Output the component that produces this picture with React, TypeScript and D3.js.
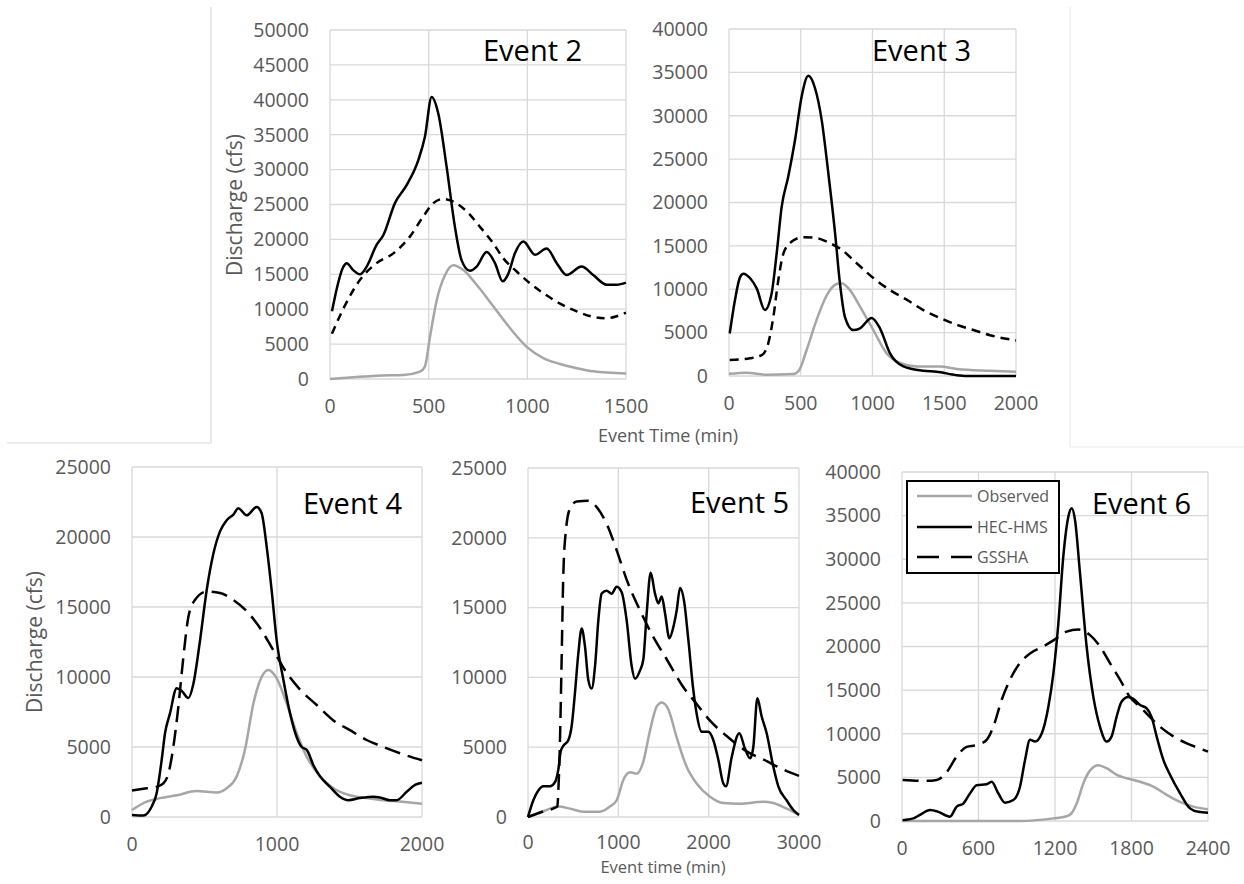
import React from "react";
import * as d3 from "d3";

type Pt = [number, number];

// ---------- DATA (time in min, discharge in cfs) ----------
const seriesNames = ["Observed", "HEC-HMS", "GSSHA"];

const e2XTicks = [0, 500, 1000, 1500];
const e2YMax = 50000;
const e2Observed: Pt[] = [[0,0],[101,200],[236,480],[372,570],[456,1050],[481,1800],[507,6100],[541,11300],[583,14900],[625,16300],[676,15600],[743,13500],[828,10400],[912,7300],[997,4600],[1081,3000],[1166,2150],[1250,1550],[1334,1100],[1500,800]];
const e2Hms: Pt[] = [[10,9700],[68,16100],[84,16600],[118,15600],[152,15000],[186,16100],[236,19200],[270,20600],[329,25200],[389,27800],[448,31400],[481,34700],[515,40400],[549,38000],[591,30400],[633,21800],[667,17000],[709,15500],[743,16100],[794,18200],[836,16600],[875,14000],[904,15100],[937,18000],[980,19700],[1039,17800],[1098,18700],[1149,16600],[1199,14900],[1275,16100],[1334,14900],[1402,13500],[1453,13500],[1500,13800]];
const e2Gssha: Pt[] = [[10,6500],[68,10100],[152,14200],[236,16600],[321,18000],[405,20400],[473,23300],[524,25200],[574,25800],[625,25400],[693,24000],[760,21800],[828,19400],[878,17300],[946,15400],[1014,13700],[1081,12300],[1166,10800],[1250,9700],[1334,8900],[1402,8700],[1453,9000],[1500,9500]];

const e3XTicks = [0, 500, 1000, 1500, 2000];
const e3YMax = 40000;
const e3Observed: Pt[] = [[0,250],[123,380],[262,150],[448,230],[490,700],[541,3000],[611,6500],[681,9300],[750,10600],[785,10700],[843,9900],[913,8000],[1006,5300],[1099,2600],[1192,1500],[1308,1100],[1470,1100],[1587,800],[1819,600],[2000,500]];
const e3Hms: Pt[] = [[5,4900],[42,8800],[77,11400],[100,11800],[146,11300],[193,10100],[250,7600],[297,9500],[332,14100],[367,19500],[413,23000],[460,27200],[506,32200],[553,34600],[599,33200],[646,29500],[692,23400],[739,16500],[773,10700],[808,6800],[866,5300],[913,5500],[994,6700],[1052,5500],[1122,2600],[1215,1100],[1354,600],[1447,500],[1587,100],[1703,0],[2000,0]];
const e3Gssha: Pt[] = [[5,1850],[146,2050],[228,2400],[274,3800],[309,6800],[344,11100],[379,14100],[437,15500],[518,16000],[611,15900],[704,15300],[773,14700],[890,13000],[1006,11300],[1122,9900],[1238,8800],[1354,7600],[1470,6700],[1587,5900],[1703,5300],[1819,4700],[2000,4100]];

const e4XTicks = [0, 1000, 2000];
const e4YMax = 25000;
const e4Observed: Pt[] = [[0,500],[101,1100],[193,1350],[308,1550],[446,1850],[584,1750],[653,2050],[722,2900],[779,4800],[837,8100],[894,10000],[940,10500],[998,9900],[1067,8100],[1136,6000],[1205,4300],[1297,2900],[1389,2050],[1503,1550],[1618,1350],[1733,1200],[1848,1100],[2000,950]];
const e4Hms: Pt[] = [[0,150],[78,100],[136,750],[170,1700],[205,4100],[228,6000],[262,7400],[308,9200],[343,9000],[389,8500],[423,9500],[469,12600],[515,16200],[561,18800],[607,20400],[653,21200],[699,21600],[733,22050],[791,21550],[860,22150],[894,21700],[929,19300],[963,16200],[998,12600],[1044,9800],[1090,7400],[1136,5700],[1170,5000],[1205,4800],[1251,3700],[1297,2900],[1366,2150],[1434,1450],[1492,1200],[1572,1350],[1664,1450],[1710,1400],[1779,1200],[1825,1200],[1894,1800],[1952,2300],[2000,2450]];
const e4Gssha: Pt[] = [[0,1900],[101,2050],[170,2150],[216,2400],[251,3100],[285,5000],[320,7900],[354,11400],[389,14300],[434,15500],[515,16100],[607,16000],[699,15500],[791,14700],[883,13500],[975,11900],[1067,10300],[1159,9100],[1274,8000],[1389,6900],[1503,6200],[1618,5500],[1733,5000],[1848,4550],[2000,4050]];

const e5XTicks = [0, 1000, 2000, 3000];
const e5YMax = 25000;
const e5Observed: Pt[] = [[0,0],[207,500],[336,750],[465,600],[613,380],[797,380],[908,750],[982,1200],[1055,2650],[1129,3200],[1203,3100],[1269,3800],[1351,6200],[1424,7900],[1480,8200],[1554,7700],[1646,5700],[1756,3600],[1867,2400],[2015,1450],[2162,1000],[2347,950],[2605,1100],[2716,1000],[2863,600],[3000,150]];
const e5Hms: Pt[] = [[0,0],[59,1200],[114,1900],[170,2200],[244,2200],[299,2500],[336,3400],[362,4700],[391,5100],[446,5500],[483,6500],[520,8900],[557,11700],[594,13500],[631,12200],[668,9800],[705,9200],[742,10800],[779,14100],[815,16000],[871,16200],[926,16000],[982,16500],[1037,16100],[1092,14100],[1148,10800],[1185,9900],[1240,10500],[1277,11300],[1314,14600],[1358,17500],[1406,16000],[1443,15300],[1480,15800],[1517,14600],[1565,12800],[1609,13600],[1646,14800],[1683,16400],[1727,15500],[1775,12700],[1830,9100],[1867,7400],[1923,6100],[1996,6100],[2052,5500],[2107,4100],[2162,2400],[2192,2200],[2255,4300],[2339,6000],[2402,4900],[2458,4200],[2494,5000],[2539,8500],[2587,7200],[2642,6000],[2716,3600],[2771,2200],[2863,1200],[2937,500],[3000,150]];
const e5Gssha: Pt[] = [[0,0],[170,400],[325,750],[336,1900],[354,5500],[373,11500],[391,17400],[421,20600],[465,22100],[539,22600],[668,22650],[760,22200],[871,21000],[982,19100],[1092,17000],[1240,14800],[1387,12900],[1535,11300],[1720,9300],[1867,8100],[2015,6900],[2199,5800],[2421,4700],[2642,4000],[2827,3400],[3000,2950]];

const e6XTicks = [0, 600, 1200, 1800, 2400];
const e6YMax = 40000;
const e6Observed: Pt[] = [[0,0],[925,0],[1056,100],[1187,300],[1291,550],[1331,900],[1370,2000],[1422,4300],[1475,5800],[1540,6400],[1605,6050],[1684,5300],[1762,4900],[1867,4500],[1971,3950],[2076,3000],[2180,2200],[2285,1650],[2400,1350]];
const e6Hms: Pt[] = [[5,100],[89,300],[141,700],[220,1250],[285,1050],[376,500],[429,1650],[481,2000],[533,3150],[586,4100],[664,4200],[703,4500],[756,3150],[808,2100],[873,2400],[925,3900],[965,7000],[1004,9300],[1043,9100],[1095,10000],[1148,13100],[1187,16900],[1226,22600],[1265,30300],[1305,34900],[1331,35850],[1357,34500],[1396,28400],[1448,20000],[1501,14200],[1553,10800],[1605,9100],[1644,9700],[1684,12000],[1723,13700],[1775,14200],[1814,14000],[1867,13300],[1919,12900],[1958,11900],[1997,9700],[2050,7000],[2102,5300],[2180,3200],[2259,1450],[2324,1050],[2400,950]];
const e6Gssha: Pt[] = [[5,4700],[193,4600],[272,4700],[350,5600],[429,7400],[507,8500],[586,8700],[664,9300],[716,10800],[782,13900],[847,16200],[925,18100],[1004,19200],[1108,20000],[1187,20700],[1291,21700],[1383,21950],[1475,21300],[1553,20000],[1631,18100],[1710,16200],[1788,14200],[1867,13100],[1945,11900],[2024,10800],[2128,9700],[2233,8900],[2337,8300],[2400,7950]];

// ---------- LAYOUT / STYLE ----------
const FONT = "'Open Sans', 'DejaVu Sans', sans-serif";
const TICK = "#595959";
const GRID = "#d9d9d9";
const OBS = "#a6a6a6";

interface Panel {
  title: string; xTicks: number[]; yMax: number;
  left: number; right: number; top: number; bottom: number;
  obs: Pt[]; hms: Pt[]; gssha: Pt[]; dash: string;
  titleX: number; titleY: number; clip: string; xLabOff: number;
}

const panels: Panel[] = [
  { title: "Event 2", xTicks: e2XTicks, yMax: e2YMax, left: 330, right: 626, top: 30, bottom: 379, obs: e2Observed, hms: e2Hms, gssha: e2Gssha, dash: "8,6", titleX: 483, titleY: 61, clip: "c2", xLabOff: 27 },
  { title: "Event 3", xTicks: e3XTicks, yMax: e3YMax, left: 729, right: 1016, top: 29, bottom: 376, obs: e3Observed, hms: e3Hms, gssha: e3Gssha, dash: "9,6", titleX: 872, titleY: 61, clip: "c3", xLabOff: 27 },
  { title: "Event 4", xTicks: e4XTicks, yMax: e4YMax, left: 132, right: 422, top: 467, bottom: 817, obs: e4Observed, hms: e4Hms, gssha: e4Gssha, dash: "16,8", titleX: 303, titleY: 514, clip: "c4", xLabOff: 27 },
  { title: "Event 5", xTicks: e5XTicks, yMax: e5YMax, left: 528, right: 799, top: 468, bottom: 817, obs: e5Observed, hms: e5Hms, gssha: e5Gssha, dash: "16,8", titleX: 690, titleY: 513, clip: "c5", xLabOff: 25 },
  { title: "Event 6", xTicks: e6XTicks, yMax: e6YMax, left: 902, right: 1208, top: 472, bottom: 821, obs: e6Observed, hms: e6Hms, gssha: e6Gssha, dash: "16,8", titleX: 1092, titleY: 514, clip: "c6", xLabOff: 27 },
];

function PanelView({ p }: { p: Panel }) {
  const x = d3.scaleLinear().domain([p.xTicks[0], p.xTicks[p.xTicks.length - 1]]).range([p.left, p.right]);
  const y = d3.scaleLinear().domain([0, p.yMax]).range([p.bottom, p.top]);
  const yTicks = d3.range(0, p.yMax + 1, 5000);
  const line = d3.line<Pt>().x(d => x(d[0])).y(d => y(d[1])).curve(d3.curveMonotoneX);
  return (
    <g>
      <defs>
        <clipPath id={p.clip}>
          <rect x={p.left - 2} y={p.top - 4} width={p.right - p.left + 4} height={p.bottom - p.top + 6} />
        </clipPath>
      </defs>
      {yTicks.map(t => (
        <line key={"gy" + t} x1={p.left} x2={p.right} y1={y(t)} y2={y(t)} stroke={GRID} strokeWidth={1.3} />
      ))}
      {p.xTicks.map(t => (
        <line key={"gx" + t} x1={x(t)} x2={x(t)} y1={p.top} y2={p.bottom} stroke={GRID} strokeWidth={1.3} />
      ))}
      {yTicks.map(t => (
        <text key={"ty" + t} x={p.left - 21} y={y(t)} dy="0.35em" textAnchor="end" fontSize={19.5} fill={TICK} fontFamily={FONT}>{t}</text>
      ))}
      {p.xTicks.map(t => (
        <text key={"tx" + t} x={x(t)} y={p.bottom + p.xLabOff} dy="0.35em" textAnchor="middle" fontSize={19.5} fill={TICK} fontFamily={FONT}>{t}</text>
      ))}
      <g clipPath={`url(#${p.clip})`} fill="none" strokeLinejoin="round">
        <path d={line(p.obs) || ""} stroke={OBS} strokeWidth={2.5} />
        <path d={line(p.gssha) || ""} stroke="#000" strokeWidth={2.5} strokeDasharray={p.dash} />
        <path d={line(p.hms) || ""} stroke="#000" strokeWidth={2.5} />
      </g>
      <text x={p.titleX} y={p.titleY} fontSize={29} fill="#000" fontFamily={FONT}>{p.title}</text>
    </g>
  );
}

export default function App() {
  const legendItems = [
    { name: seriesNames[0], color: OBS, dash: "none", y: 496 },
    { name: seriesNames[1], color: "#000", dash: "none", y: 527 },
    { name: seriesNames[2], color: "#000", dash: "22,12", y: 557 },
  ];
  return (
    <svg width={1244} height={884} style={{ position: "absolute", left: 0, top: 0, background: "#fff" }}>
      <rect x={0} y={0} width={1244} height={884} fill="#fff" />
      {/* frames of the original separate images */}
      <polyline points="211,7 211,443 7,443" fill="none" stroke="#d9d9d9" strokeWidth={1.2} />
      <polyline points="1070,7 1070,447 1244,447" fill="none" stroke="#ebebeb" strokeWidth={1.2} />
      {panels.map(p => <PanelView key={p.title} p={p} />)}
      {/* axis titles */}
      <text transform="translate(235,205) rotate(-90)" textAnchor="middle" dy="0.35em" fontSize={21} fill={TICK} fontFamily={FONT}>Discharge (cfs)</text>
      <text transform="translate(35,642) rotate(-90)" textAnchor="middle" dy="0.35em" fontSize={21} fill={TICK} fontFamily={FONT}>Discharge (cfs)</text>
      <text x={668} y={436} dy="0.35em" textAnchor="middle" fontSize={18} fill={TICK} fontFamily={FONT}>Event Time (min)</text>
      <text x={663} y={867} dy="0.35em" textAnchor="middle" fontSize={16.5} fill={TICK} fontFamily={FONT}>Event time (min)</text>
      {/* legend */}
      <rect x={907} y={481} width={152} height={92} fill="#fff" stroke="#000" strokeWidth={2} />
      {legendItems.map(it => (
        <g key={it.name}>
          <line x1={917} x2={972} y1={it.y} y2={it.y} stroke={it.color} strokeWidth={2.5} strokeDasharray={it.dash} />
          <text x={977} y={it.y} dy="0.35em" fontSize={16} fill={TICK} fontFamily={FONT}>{it.name}</text>
        </g>
      ))}
    </svg>
  );
}
